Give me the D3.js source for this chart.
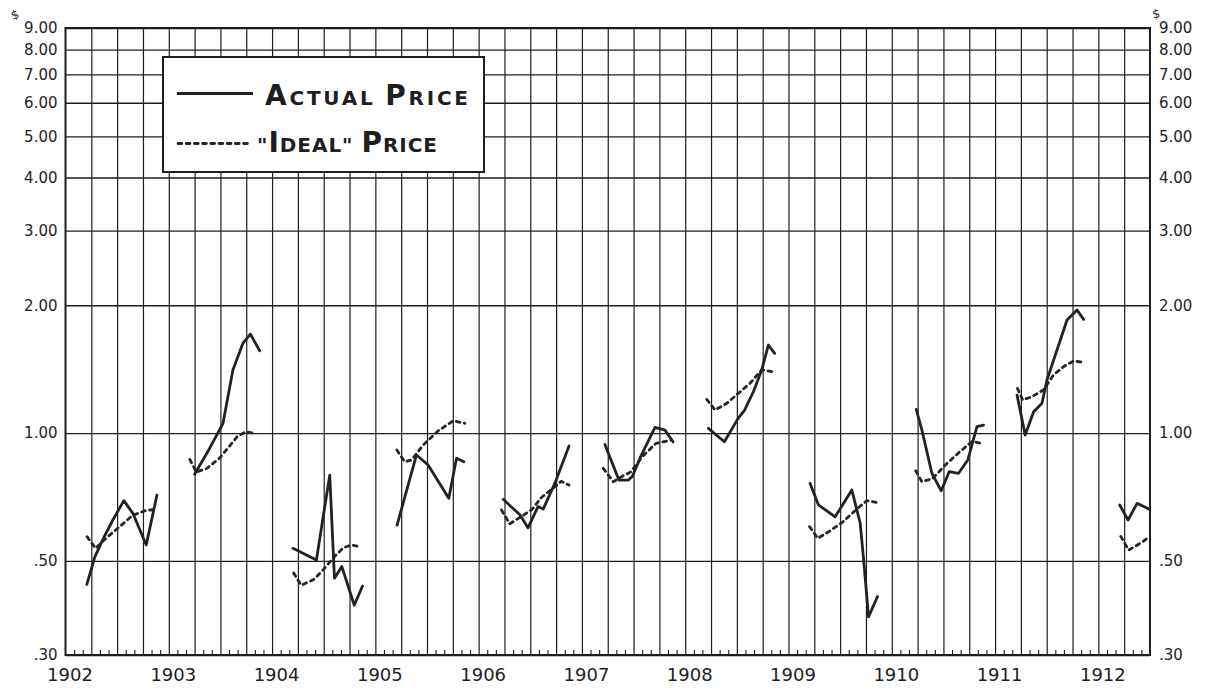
<!DOCTYPE html>
<html>
<head>
<meta charset="utf-8">
<script src="https://cdn.jsdelivr.net/npm/d3@7"></script>
<style>
  html, body { margin: 0; padding: 0; background: #fff; }
  svg { display: block; }
</style>
</head>
<body>
<svg id="chart" width="1205" height="694"></svg>
<script>
// One selling season per year
const years = [1902, 1903, 1904, 1905, 1906, 1907, 1908, 1909, 1910, 1911, 1912];

// Actual price per season: [month of the year (0 = Jan 1), price in dollars]
const actualPrice = [
  [[2.48, 0.44], [3.4, 0.51], [4.4, 0.565], [5.5, 0.624], [6.78, 0.693], [7.83, 0.647], [9.38, 0.545], [10.62, 0.714]],
  [[3.0, 0.80], [4.74, 0.92], [6.3, 1.054], [7.45, 1.407], [8.6, 1.626], [9.48, 1.711], [10.56, 1.563]],
  [[2.43, 0.535], [5.15, 0.502], [6.7, 0.796], [7.25, 0.455], [8.1, 0.485], [9.55, 0.393], [10.5, 0.436]],
  [[2.52, 0.607], [4.78, 0.888], [6.13, 0.841], [8.53, 0.702], [9.43, 0.872], [10.28, 0.856]],
  [[2.85, 0.698], [4.79, 0.642], [5.73, 0.598], [6.9, 0.671], [7.5, 0.662], [8.86, 0.762], [10.5, 0.932]],
  [[2.67, 0.94], [4.3, 0.775], [5.4, 0.775], [5.85, 0.79], [6.94, 0.89], [8.49, 1.031], [9.65, 1.016], [10.6, 0.953]],
  [[2.69, 1.026], [4.55, 0.954], [6.15, 1.083], [6.9, 1.133], [7.92, 1.251], [8.9, 1.41], [9.66, 1.612], [10.4, 1.541]],
  [[2.51, 0.761], [3.48, 0.677], [5.42, 0.635], [7.36, 0.734], [8.33, 0.613], [8.7, 0.511], [9.3, 0.369], [10.34, 0.412]],
  [[2.84, 1.137], [3.5, 1.016], [4.66, 0.804], [5.74, 0.731], [6.67, 0.811], [7.76, 0.804], [8.83, 0.864], [9.9, 1.035], [10.66, 1.044]],
  [[2.55, 1.229], [3.5, 0.989], [4.48, 1.122], [5.45, 1.175], [6.03, 1.333], [8.36, 1.846], [9.52, 1.949], [10.29, 1.853]],
  [[2.48, 0.677], [3.45, 0.624], [4.5, 0.683], [5.97, 0.661]]
];

// "Ideal" price per season: [month of the year, price in dollars]
const idealPrice = [
  [[2.5, 0.57], [3.5, 0.535], [4.7, 0.565], [6.3, 0.602], [7.8, 0.64], [9.4, 0.658], [10.4, 0.66]],
  [[2.44, 0.867], [3.2, 0.809], [4.4, 0.825], [5.9, 0.873], [7.06, 0.932], [8.0, 0.984], [9.0, 1.007], [10.1, 0.997]],
  [[2.5, 0.468], [3.4, 0.438], [4.84, 0.452], [5.9, 0.475], [7.1, 0.508], [8.3, 0.537], [9.25, 0.545], [10.07, 0.54]],
  [[2.5, 0.912], [3.4, 0.856], [4.2, 0.864], [5.55, 0.937], [7.3, 1.012], [9.05, 1.069], [10.4, 1.054]],
  [[2.65, 0.659], [3.6, 0.611], [4.9, 0.635], [6.15, 0.659], [7.3, 0.705], [8.65, 0.742], [9.6, 0.77], [10.5, 0.754]],
  [[2.48, 0.826], [3.64, 0.768], [4.65, 0.79], [5.7, 0.81], [7.0, 0.88], [8.6, 0.945], [10.4, 0.963]],
  [[2.5, 1.20], [3.47, 1.133], [4.83, 1.175], [6.17, 1.24], [7.53, 1.31], [8.9, 1.41], [10.24, 1.394]],
  [[2.45, 0.602], [3.4, 0.565], [4.7, 0.586], [6.3, 0.617], [7.86, 0.66], [9.1, 0.693], [10.27, 0.686]],
  [[2.78, 0.815], [3.5, 0.768], [4.7, 0.78], [6.33, 0.845], [7.95, 0.905], [9.35, 0.956], [10.5, 0.944]],
  [[2.6, 1.274], [3.22, 1.196], [4.27, 1.218], [5.62, 1.263], [6.78, 1.37], [7.95, 1.433], [9.11, 1.478], [10.35, 1.467]],
  [[2.6, 0.571], [3.52, 0.53], [4.88, 0.55], [5.96, 0.57]]
];

// Price scale ticks and their labels
const priceTicks  = [9, 8, 7, 6, 5, 4, 3, 2, 1, 0.5, 0.3];
const priceLabels = ["9.00", "8.00", "7.00", "6.00", "5.00", "4.00", "3.00", "2.00", "1.00", ".50", ".30"];
const yearLabels  = ["1902", "1903", "1904", "1905", "1906", "1907", "1908", "1909", "1910", "1911", "1912"];
const legendLabels = ["Actual Price", "\"Ideal\" Price"];
const currencyMark = "$";

// ---- layout ----
const plot = { left: 65.5, right: 1150, top: 28, bottom: 655 };
const svg = d3.select("#chart");
const ink = "#1e1e1e";
const numFont = "'DejaVu Sans', sans-serif";

const x = d3.scaleLinear().domain([1902, 1912.5]).range([plot.left, plot.right]);
const y = d3.scaleLog().domain([0.3, 9]).range([plot.bottom, plot.top]);
const plotH = plot.bottom - plot.top;
const plotW = plot.right - plot.left;

// quarter-year vertical rules
const quarters = d3.range(1902.25, 1912.5, 0.25);
svg.append("g")
  .attr("transform", `translate(0,${plot.bottom})`)
  .call(d3.axisBottom(x).tickValues(quarters).tickSize(-plotH).tickFormat(""))
  .call(g => g.select(".domain").remove())
  .call(g => g.selectAll("line").attr("stroke", ink).attr("stroke-width", 1.2));

// monthly marks along the base
const months = d3.range(0, 10.5 * 12).filter(i => i % 3 !== 0).map(i => 1902 + i / 12);
svg.append("g")
  .attr("transform", `translate(0,${plot.bottom})`)
  .call(d3.axisBottom(x).tickValues(months).tickSize(-5).tickFormat(""))
  .call(g => g.select(".domain").remove())
  .call(g => g.selectAll("line").attr("stroke", ink).attr("stroke-width", 1.1));

// horizontal price rules + left labels
svg.append("g")
  .attr("transform", `translate(${plot.left},0)`)
  .call(d3.axisLeft(y).tickValues(priceTicks).tickSize(-plotW).tickPadding(8)
        .tickFormat((d, i) => priceLabels[i]))
  .call(g => g.select(".domain").remove())
  .call(g => g.selectAll("line").attr("stroke", ink).attr("stroke-width", 1.3))
  .call(g => g.selectAll("text").attr("fill", ink).attr("font-family", numFont).attr("font-size", 15));

// right labels
svg.append("g")
  .attr("transform", `translate(${plot.right},0)`)
  .call(d3.axisRight(y).tickValues(priceTicks).tickSize(0).tickPadding(9)
        .tickFormat((d, i) => priceLabels[i]))
  .call(g => g.select(".domain").remove())
  .call(g => g.selectAll("text").attr("fill", ink).attr("font-family", numFont).attr("font-size", 15));

// year labels
svg.append("g")
  .attr("transform", `translate(0,${plot.bottom})`)
  .call(d3.axisBottom(x).tickValues(years).tickSize(0).tickPadding(13)
        .tickFormat((d, i) => yearLabels[i]))
  .call(g => g.select(".domain").remove())
  .call(g => g.selectAll("text").attr("fill", ink).attr("font-family", numFont)
        .attr("font-size", 18).attr("dx", 4));

// frame
svg.append("rect")
  .attr("x", plot.left).attr("y", plot.top)
  .attr("width", plotW).attr("height", plotH)
  .attr("fill", "none").attr("stroke", ink).attr("stroke-width", 2);

// currency marks above both scales
svg.append("text").attr("x", 15).attr("y", 19).attr("font-size", 12)
  .attr("font-family", numFont).attr("fill", ink).attr("text-anchor", "middle")
  .attr("transform", "rotate(-20,15,15)").text(currencyMark);
svg.append("text").attr("x", 1156).attr("y", 18).attr("font-size", 12)
  .attr("font-family", numFont).attr("fill", ink).attr("text-anchor", "middle")
  .attr("transform", "rotate(-10,1156,14)").text(currencyMark);

// ---- price lines ----
svg.append("defs").append("clipPath").attr("id", "plotClip")
  .append("rect").attr("x", plot.left).attr("y", plot.top)
  .attr("width", plotW).attr("height", plotH);

const line = d3.line()
  .x(d => x(d.t))
  .y(d => y(d.v));

const toPoints = (series) => series.map((season, i) =>
  season.map(([m, v]) => ({ t: years[i] + m / 12, v })));

const lines = svg.append("g").attr("clip-path", "url(#plotClip)");

const dashStyle = { width: 2.8, dash: "3.8,4.4" };

lines.selectAll("path.ideal")
  .data(toPoints(idealPrice))
  .join("path")
  .attr("class", "ideal")
  .attr("d", line)
  .attr("fill", "none")
  .attr("stroke", "#262626")
  .attr("stroke-width", dashStyle.width)
  .attr("stroke-dasharray", dashStyle.dash)
  .attr("stroke-linecap", "round")
  .attr("stroke-linejoin", "round");

lines.selectAll("path.actual")
  .data(toPoints(actualPrice))
  .join("path")
  .attr("class", "actual")
  .attr("d", line)
  .attr("fill", "none")
  .attr("stroke", "#222")
  .attr("stroke-width", 2.8)
  .attr("stroke-linecap", "round")
  .attr("stroke-linejoin", "round");

// ---- legend ----
const legend = svg.append("g");
legend.append("rect")
  .attr("x", 163).attr("y", 57).attr("width", 321).attr("height", 115)
  .attr("fill", "#fff").attr("stroke", ink).attr("stroke-width", 2);

legend.append("line")
  .attr("x1", 177).attr("x2", 253).attr("y1", 93.5).attr("y2", 93.5)
  .attr("stroke", "#222").attr("stroke-width", 2.8);
legend.append("line")
  .attr("x1", 178).attr("x2", 250).attr("y1", 143.5).attr("y2", 143.5)
  .attr("stroke", "#262626").attr("stroke-width", dashStyle.width)
  .attr("stroke-dasharray", dashStyle.dash).attr("stroke-linecap", "round");

// small-capital lettering: capitals large, the rest as smaller capitals
function smallCaps(textSel, label) {
  const runs = [];
  for (const ch of label) {
    const big = ch >= "A" && ch <= "Z";
    const last = runs[runs.length - 1];
    if (last && last.big === big) last.s += ch.toUpperCase();
    else runs.push({ big, s: ch.toUpperCase() });
  }
  textSel.selectAll("tspan").data(runs).join("tspan")
    .attr("font-size", d => d.big ? 28 : 20)
    .text(d => d.s);
}

const legendRows = [
  { x: 265, y: 105, len: 203 },
  { x: 257, y: 151.5, len: 180 }
];
legendRows.forEach((r, i) => {
  const t = legend.append("text")
    .attr("x", r.x).attr("y", r.y)
    .attr("font-family", "'DejaVu Sans', sans-serif")
    .attr("font-weight", "bold")
    .attr("fill", ink)
    .attr("textLength", r.len)
    .attr("lengthAdjust", "spacing");
  smallCaps(t, legendLabels[i]);
});
</script>
</body>
</html>
